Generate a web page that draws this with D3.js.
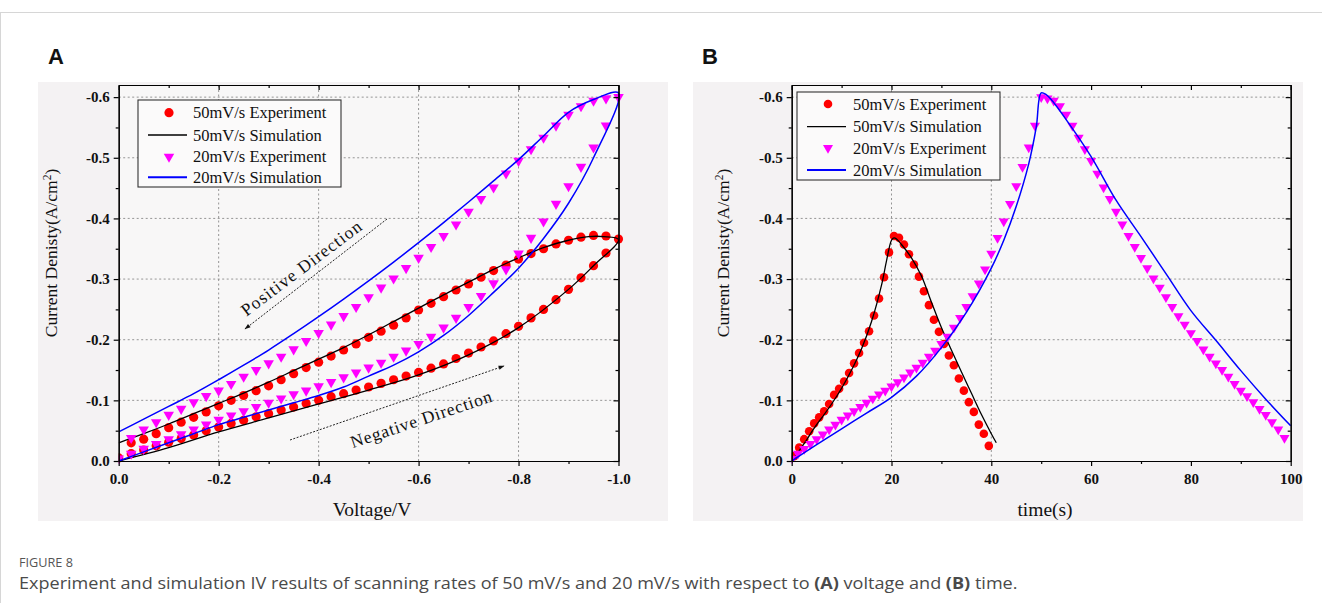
<!DOCTYPE html>
<html><head><meta charset="utf-8">
<script src="https://cdn.jsdelivr.net/npm/d3@7"></script>
<style>
body{margin:0;background:#fff;}
svg{display:block;}
.grid{stroke:#8a8a8a;stroke-width:0.9;stroke-dasharray:2,2.5;}
.ax path,.ax line{stroke:#000;stroke-width:1.2;}
.ax text{font-family:"Liberation Serif","Times New Roman",serif;font-size:15px;font-weight:bold;fill:#111;}
</style></head><body>
<svg id="chart" width="1322" height="603"></svg>
<script>
// ---------- DATA ----------
// Panel A: voltage sample points of the experimental scans
const voltForward = [0,-0.025,-0.05,-0.075,-0.1,-0.125,-0.15,-0.175,-0.2,-0.225,-0.25,-0.275,-0.3,-0.325,-0.35,-0.375,-0.4,-0.425,-0.45,-0.475,-0.5,-0.525,-0.55,-0.575,-0.6,-0.625,-0.65,-0.675,-0.7,-0.725,-0.75,-0.775,-0.8,-0.825,-0.85,-0.875,-0.9,-0.925,-0.95,-0.975];
const voltReturn = [-1,-0.975,-0.95,-0.925,-0.9,-0.875,-0.85,-0.825,-0.8,-0.775,-0.75,-0.725,-0.7,-0.675,-0.65,-0.625,-0.6,-0.575,-0.55,-0.525,-0.5,-0.475,-0.45,-0.425,-0.4,-0.375,-0.35,-0.325,-0.3,-0.275,-0.25,-0.225,-0.2,-0.175,-0.15,-0.125,-0.1,-0.075,-0.05,-0.025];
// 50 mV/s experiment (A/cm2)
const exp50Forward = [-0.005,-0.012,-0.018,-0.025,-0.031,-0.037,-0.043,-0.050,-0.056,-0.062,-0.067,-0.073,-0.078,-0.084,-0.089,-0.095,-0.100,-0.106,-0.111,-0.117,-0.122,-0.128,-0.134,-0.140,-0.146,-0.153,-0.160,-0.169,-0.178,-0.188,-0.198,-0.210,-0.222,-0.236,-0.250,-0.266,-0.283,-0.302,-0.322,-0.343];
const exp50Return = [-0.366,-0.371,-0.372,-0.369,-0.364,-0.358,-0.350,-0.342,-0.333,-0.323,-0.314,-0.303,-0.292,-0.282,-0.271,-0.260,-0.249,-0.236,-0.224,-0.214,-0.204,-0.193,-0.183,-0.173,-0.163,-0.154,-0.144,-0.134,-0.124,-0.116,-0.108,-0.100,-0.091,-0.081,-0.072,-0.064,-0.055,-0.045,-0.036,-0.030];
// 20 mV/s experiment (A/cm2)
const exp20Forward = [-0.004,-0.012,-0.020,-0.028,-0.036,-0.044,-0.052,-0.060,-0.068,-0.075,-0.082,-0.089,-0.096,-0.103,-0.110,-0.116,-0.123,-0.130,-0.138,-0.146,-0.154,-0.162,-0.172,-0.182,-0.193,-0.205,-0.220,-0.236,-0.254,-0.272,-0.293,-0.316,-0.342,-0.368,-0.395,-0.424,-0.453,-0.485,-0.517,-0.553];
const exp20Return = [-0.600,-0.598,-0.594,-0.585,-0.571,-0.553,-0.533,-0.514,-0.495,-0.474,-0.451,-0.432,-0.411,-0.390,-0.371,-0.353,-0.335,-0.318,-0.301,-0.286,-0.270,-0.254,-0.239,-0.225,-0.211,-0.198,-0.184,-0.172,-0.161,-0.150,-0.139,-0.127,-0.116,-0.107,-0.097,-0.086,-0.076,-0.064,-0.052,-0.038];
// 50 mV/s simulation, panel A
const sim50V = [0,-0.1,-0.2,-0.3,-0.4,-0.5,-0.6,-0.7,-0.8,-0.9,-0.95,-1,-0.97,-0.94,-0.9,-0.85,-0.8,-0.75,-0.7,-0.65,-0.6,-0.55,-0.5,-0.45,-0.4,-0.35,-0.3,-0.25,-0.2,-0.15,-0.1,-0.05,0];
const sim50I = [0,-0.022,-0.048,-0.071,-0.094,-0.117,-0.142,-0.175,-0.220,-0.283,-0.322,-0.365,-0.370,-0.370,-0.364,-0.352,-0.335,-0.316,-0.295,-0.274,-0.252,-0.230,-0.208,-0.187,-0.168,-0.149,-0.130,-0.112,-0.095,-0.078,-0.061,-0.045,-0.030];
// 20 mV/s simulation, panel A
const sim20V = [0,-0.05,-0.1,-0.15,-0.2,-0.25,-0.3,-0.35,-0.4,-0.45,-0.5,-0.55,-0.6,-0.65,-0.7,-0.75,-0.8,-0.85,-0.9,-0.95,-1,-0.95,-0.9,-0.85,-0.8,-0.75,-0.7,-0.65,-0.6,-0.55,-0.5,-0.45,-0.4,-0.35,-0.3,-0.25,-0.2,-0.15,-0.1,-0.05,0];
const sim20I = [0,-0.015,-0.030,-0.045,-0.060,-0.072,-0.084,-0.096,-0.108,-0.122,-0.140,-0.158,-0.180,-0.207,-0.240,-0.278,-0.318,-0.367,-0.425,-0.500,-0.607,-0.596,-0.575,-0.536,-0.497,-0.462,-0.427,-0.393,-0.360,-0.328,-0.297,-0.267,-0.238,-0.210,-0.183,-0.158,-0.134,-0.111,-0.090,-0.069,-0.048];
// Panel B: time axis of the experiments (s)
const time50Exp = [0.5,1.5,2.5,3.5,4.5,5.5,6.5,7.5,8.5,9.5,10.5,11.5,12.5,13.5,14.5,15.5,16.5,17.5,18.5,19.5,20.5,21.5,22.5,23.5,24.5,25.5,26.5,27.5,28.5,29.5,30.5,31.5,32.5,33.5,34.5,35.5,36.5,37.5,38.5,39.5];
const exp50Time = [-0.008,-0.022,-0.036,-0.049,-0.062,-0.072,-0.082,-0.094,-0.109,-0.119,-0.131,-0.145,-0.161,-0.178,-0.195,-0.214,-0.240,-0.268,-0.303,-0.344,-0.371,-0.368,-0.357,-0.341,-0.324,-0.304,-0.280,-0.257,-0.233,-0.213,-0.193,-0.174,-0.158,-0.136,-0.116,-0.097,-0.081,-0.060,-0.045,-0.025];
const time20Rise = [0,1.25,2.5,3.75,5,6.25,7.5,8.75,10,11.25,12.5,13.75,15,16.25,17.5,18.75,20,21.25,22.5,23.75,25,26.25,27.5,28.75,30,31.25,32.5,33.75,35,36.25,37.5,38.75,40,41.25,42.5,43.75,45,46.25,47.5,48.75];
const time20Fall = [50,51.25,52.5,53.75,55,56.25,57.5,58.75,60,61.25,62.5,63.75,65,66.25,67.5,68.75,70,71.25,72.5,73.75,75,76.25,77.5,78.75,80,81.25,82.5,83.75,85,86.25,87.5,88.75,90,91.25,92.5,93.75,95,96.25,97.5,98.75];
const sim50T = [0,1,2,3,4,5,6,8,10,12,14,16,18,19,20,20.5,21,22,24,26,28,30,32,34,36,38,40,41];
const sim50TI = [0,-0.011,-0.023,-0.035,-0.048,-0.060,-0.071,-0.094,-0.120,-0.150,-0.185,-0.230,-0.290,-0.330,-0.364,-0.368,-0.366,-0.357,-0.335,-0.305,-0.262,-0.220,-0.183,-0.147,-0.112,-0.077,-0.045,-0.030];
const sim20T = [0,5,10,15,20,25,30,35,40,42.5,45,47.5,49,50,51,52,55,60,65,70,75,80,85,90,95,100];
const sim20TI = [0,-0.027,-0.053,-0.079,-0.105,-0.140,-0.187,-0.245,-0.318,-0.364,-0.420,-0.490,-0.550,-0.607,-0.604,-0.596,-0.563,-0.502,-0.430,-0.370,-0.309,-0.248,-0.199,-0.149,-0.102,-0.058];
// axes ticks
const yMajor = [0,-0.1,-0.2,-0.3,-0.4,-0.5,-0.6];
const yMinor = [-0.05,-0.15,-0.25,-0.35,-0.45,-0.55];
const voltMajor = [0,-0.2,-0.4,-0.6,-0.8,-1.0];
const voltMinor = [-0.1,-0.3,-0.5,-0.7,-0.9];
const timeMajor = [0,20,40,60,80,100];
const timeMinor = [10,30,50,70,90];
const legendLabels = ["50mV/s Experiment","50mV/s Simulation","20mV/s Experiment","20mV/s Simulation"];

// ---------- DRAWING ----------
const svg = d3.select('#chart');
const serif = '"Liberation Serif","Times New Roman",serif';
const RED = '#ff0000', MAG = '#ff00ff', BLUE = '#0000ff';

// page frame
svg.append('line').attr('x1',0).attr('x2',1322).attr('y1',12.5).attr('y2',12.5).attr('stroke','#d6d6d6');
svg.append('line').attr('x1',0.5).attr('x2',0.5).attr('y1',12).attr('y2',603).attr('stroke','#d6d6d6');

function zip(a,b){return a.map((v,i)=>[v,b[i]]);}

function drawPanel(cfg){
  const g = svg.append('g');
  const x = d3.scaleLinear().domain(cfg.xDomain).range(cfg.xRange);
  const y = d3.scaleLinear().domain([0,-0.62]).range([461,85]);
  const [x0,x1] = cfg.xRange, [y0,y1] = y.range();
  g.append('rect').attr('x',cfg.bg[0]).attr('y',cfg.bg[1]).attr('width',cfg.bg[2]).attr('height',cfg.bg[3]).attr('fill','#f4f2f3');
  g.append('rect').attr('x',x0).attr('y',y1).attr('width',x1-x0).attr('height',y0-y1).attr('fill','#f8f7f7');
  // grid
  cfg.xGrid.forEach(v=>g.append('line').attr('class','grid').attr('x1',x(v)).attr('x2',x(v)).attr('y1',y0).attr('y2',y1));
  yMajor.filter(v=>v!==0).forEach(v=>g.append('line').attr('class','grid').attr('x1',x0).attr('x2',x1).attr('y1',y(v)).attr('y2',y(v)));

  const clip = 'clip'+cfg.id;
  g.append('clipPath').attr('id',clip).append('rect').attr('x',x0).attr('y',y1-4).attr('width',x1-x0+6).attr('height',y0-y1+8);
  const plot = g.append('g').attr('clip-path',`url(#${clip})`);
  const line = d3.line().x(d=>x(d[0])).y(d=>y(d[1])).curve(d3.curveCatmullRom.alpha(0.5));
  const tri = d3.symbol().type(d3.symbolTriangle).size(cfg.triSize);

  // 50 mV/s experiment
  plot.append('g').selectAll('circle').data(cfg.red).join('circle')
    .attr('cx',d=>x(d[0])).attr('cy',d=>y(d[1])).attr('r',cfg.r).attr('fill',RED);
  // 50 mV/s simulation
  cfg.black.forEach(seg=>plot.append('path').attr('d',line(seg)).attr('fill','none').attr('stroke','#000').attr('stroke-width',1.3));
  // 20 mV/s experiment
  plot.append('g').selectAll('path').data(cfg.mag).join('path')
    .attr('d',tri).attr('transform',d=>`translate(${x(d[0])},${y(d[1])}) rotate(180)`).attr('fill',MAG);
  // 20 mV/s simulation
  cfg.blue.forEach(seg=>plot.append('path').attr('d',line(seg)).attr('fill','none').attr('stroke',BLUE).attr('stroke-width',1.5));

  // axes
  const fy = d=> d===0?'0.0':d.toFixed(1);
  const mk = (sel)=>sel.attr('class','ax');
  mk(g.append('g').attr('transform',`translate(${x0},0)`)).call(d3.axisLeft(y).tickValues(yMajor).tickSize(5).tickSizeOuter(0).tickPadding(4).tickFormat(fy));
  mk(g.append('g').attr('transform',`translate(${x0},0)`)).call(d3.axisLeft(y).tickValues(yMinor).tickSize(3).tickSizeOuter(0).tickFormat(''));
  mk(g.append('g').attr('transform',`translate(${x1},0)`)).call(d3.axisRight(y).tickValues(yMajor).tickSize(-5).tickSizeOuter(0).tickFormat(''));
  mk(g.append('g').attr('transform',`translate(${x1},0)`)).call(d3.axisRight(y).tickValues(yMinor).tickSize(-3).tickSizeOuter(0).tickFormat(''));
  mk(g.append('g').attr('transform',`translate(0,${y0})`)).call(d3.axisBottom(x).tickValues(cfg.xMajor).tickSize(5).tickSizeOuter(0).tickPadding(7).tickFormat(cfg.xFmt));
  mk(g.append('g').attr('transform',`translate(0,${y0})`)).call(d3.axisBottom(x).tickValues(cfg.xMinor).tickSize(3).tickSizeOuter(0).tickFormat(''));
  mk(g.append('g').attr('transform',`translate(0,${y1})`)).call(d3.axisTop(x).tickValues(cfg.xMajor).tickSize(-5).tickSizeOuter(0).tickFormat(''));
  mk(g.append('g').attr('transform',`translate(0,${y1})`)).call(d3.axisTop(x).tickValues(cfg.xMinor).tickSize(-3).tickSizeOuter(0).tickFormat(''));

  // axis titles
  g.append('text').attr('x',cfg.xTitlePos[0]).attr('y',cfg.xTitlePos[1]).attr('text-anchor','middle')
    .attr('font-family',serif).attr('font-size',19.5).attr('fill','#111').text(cfg.xTitle);
  const yt = g.append('text').attr('transform',`translate(${cfg.yTitleX},253) rotate(-90)`).attr('text-anchor','middle')
    .attr('font-family',serif).attr('font-size',17.5).attr('fill','#111');
  yt.append('tspan').text('Current Denisty(A/cm');
  yt.append('tspan').attr('baseline-shift','super').attr('font-size',11.5).text('2');
  yt.append('tspan').text(')');

  // panel letter
  g.append('text').attr('x',cfg.letterX).attr('y',64).attr('font-family','"Liberation Sans",Arial,sans-serif')
    .attr('font-weight','bold').attr('font-size',22).attr('fill','#111').text(cfg.letter);

  // legend
  const L = cfg.legend;
  g.append('rect').attr('x',L.x).attr('y',L.y).attr('width',L.w).attr('height',L.h)
    .attr('fill','#fbfafa').attr('stroke','#333').attr('stroke-width',1.1);
  legendLabels.forEach((lab,i)=>{
    const cy = L.rows[i];
    if(i===0) g.append('circle').attr('cx',L.sx).attr('cy',cy).attr('r',cfg.r).attr('fill',RED);
    if(i===2) g.append('path').attr('d',tri).attr('transform',`translate(${L.sx},${cy}) rotate(180)`).attr('fill',MAG);
    if(i===1||i===3) g.append('line').attr('x1',L.sx-21).attr('x2',L.sx+18).attr('y1',cy).attr('y2',cy)
      .attr('stroke',i===1?'#000':BLUE).attr('stroke-width',i===1?1.3:2);
    g.append('text').attr('x',L.tx).attr('y',cy).attr('dy','0.35em').attr('font-family',serif)
      .attr('font-size',16.5).attr('fill','#111').text(lab);
  });
  return {g,x,y};
}

const A = drawPanel({
  id:'A', letter:'A', letterX:48, bg:[38,82,630,439],
  xDomain:[0,-1], xRange:[118.7,618.5], xMajor:voltMajor, xMinor:voltMinor,
  xFmt:d=> d===0?'0.0':d.toFixed(1), xGrid:[-0.2,-0.4,-0.6,-0.8],
  xTitle:'Voltage/V', xTitlePos:[372,516], yTitleX:57,
  r:4.6, triSize:48,
  red: zip(voltForward,exp50Forward).concat(zip(voltReturn,exp50Return)),
  mag: zip(voltForward,exp20Forward).concat(zip(voltReturn,exp20Return)),
  black:[zip(sim50V,sim50I)], blue:[zip(sim20V,sim20I)],
  legend:{x:138,y:100,w:203,h:87,rows:[112.7,135,156.7,177.3],sx:169,tx:193}
});

const B = drawPanel({
  id:'B', letter:'B', letterX:702, bg:[693,82,610,439],
  xDomain:[0,100], xRange:[791.7,1290.7], xMajor:timeMajor, xMinor:timeMinor,
  xFmt:d=>String(d), xGrid:[20,40],
  xTitle:'time(s)', xTitlePos:[1045,516], yTitleX:729,
  r:4.3, triSize:44,
  red: zip(time50Exp,exp50Time),
  mag: zip(time20Rise,exp20Forward).concat(zip(time20Fall,exp20Return)),
  black:[zip(sim50T,sim50TI)], blue:[zip(sim20T,sim20TI)],
  legend:{x:797,y:92,w:203,h:88,rows:[104,126.7,148,170],sx:828,tx:853}
});

// direction annotations (panel A)
const defs = svg.append('defs');
defs.append('marker').attr('id','arr').attr('viewBox','0 0 10 10').attr('refX',9).attr('refY',5)
  .attr('markerWidth',7).attr('markerHeight',6).attr('orient','auto')
  .append('path').attr('d','M0,1.5 L10,5 L0,8.5 Z').attr('fill','#111');
const ann = svg.append('g');
ann.append('line').attr('x1',387).attr('y1',219).attr('x2',245).attr('y2',329)
  .attr('stroke','#222').attr('stroke-width',1).attr('stroke-dasharray','2,1.5').attr('marker-end','url(#arr)');
ann.append('line').attr('x1',290).attr('y1',440).attr('x2',504).attr('y2',366)
  .attr('stroke','#222').attr('stroke-width',1).attr('stroke-dasharray','2,1.5').attr('marker-end','url(#arr)');
ann.append('text').attr('transform','translate(301,268) rotate(-37)').attr('text-anchor','middle').attr('dy','0.35em')
  .attr('font-family',serif).attr('font-size',17.5).attr('fill','#111').attr('textLength',146).attr('lengthAdjust','spacing').text('Positive Direction');
ann.append('text').attr('transform','translate(421,419) rotate(-18.5)').attr('text-anchor','middle').attr('dy','0.35em')
  .attr('font-family',serif).attr('font-size',17.5).attr('fill','#111').attr('textLength',148).attr('lengthAdjust','spacing').text('Negative Direction');

// caption
const cap = svg.append('g').attr('font-family','"Open Sans","Noto Sans",sans-serif').attr('fill','#555');
const c1 = cap.append('text').attr('x',19).attr('y',567).attr('font-size',12.5).text('FIGURE 8');
const w1 = c1.node().getComputedTextLength();
c1.attr('transform',`translate(19,0) scale(${54/w1},1) translate(-19,0)`);
const c2 = cap.append('text').attr('x',19).attr('y',589).attr('font-size',16).attr('fill','#4a4a4a');
[['Experiment and simulation IV results of scanning rates of 50 mV/s and 20 mV/s with respect to ',false],['(A)',true],[' voltage and ',false],['(B)',true],[' time.',false]]
  .forEach(([t,b])=>c2.append('tspan').attr('font-weight',b?'bold':null).text(t));
const w = c2.node().getComputedTextLength();
const k = 999/w;
c2.attr('transform',`translate(19,0) scale(${k},1) translate(-19,0)`);
</script>
</body></html>
